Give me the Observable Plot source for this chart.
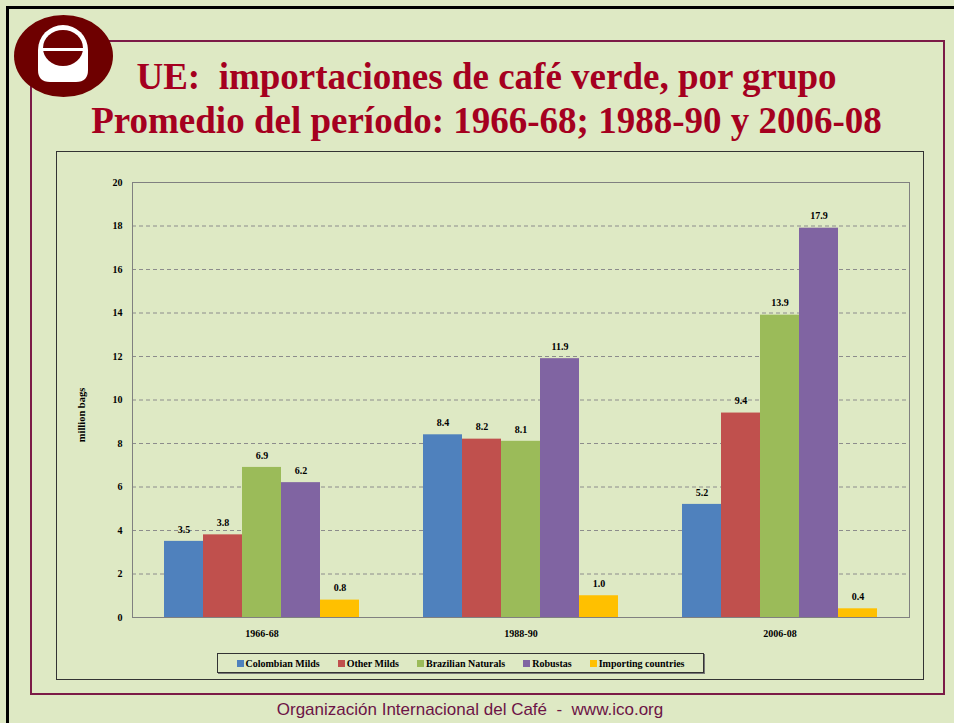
<!DOCTYPE html>
<html>
<head>
<meta charset="utf-8">
<script src="https://cdn.jsdelivr.net/npm/d3@7"></script>
<script src="https://cdn.jsdelivr.net/npm/@observablehq/plot@0.6"></script>
<style>
  html, body { margin: 0; padding: 0; }
  body { width: 954px; height: 723px; background: #DEE9C4; position: relative; overflow: hidden; }
  .abs { position: absolute; }
  #outer { left: 6px; top: 6px; width: 1000px; height: 1000px; border: 3px solid #000; }
  #frame { left: 30px; top: 40px; width: 911px; height: 651px; border: 2px solid #7B1B47; }
  #chartbox { left: 56px; top: 151px; width: 866px; height: 527px; border: 1px solid #333; }
  #title { left: 30px; top: 55px; width: 913px; text-align: center; color: #A5001F;
           font: bold 37px "Times New Roman", "Liberation Serif", serif; line-height: 44px; white-space: pre; }
  #chart { left: 56px; top: 151px; }
  #legend { left: 217px; top: 653px; width: 485px; height: 18px; border: 1px solid #333;
            box-shadow: 1px 1px 0 #777;
            display: flex; align-items: center; justify-content: center; gap: 18px;
            font: bold 10px "Times New Roman", "Liberation Serif", serif; color: #000; }
  #legend .item { display: flex; align-items: center; gap: 2px; white-space: nowrap; }
  #legend .sw { width: 7px; height: 7px; display: inline-block; }
  #footer { left: 0px; top: 700px; width: 940px; text-align: center; color: #6C1446;
            font: 17px Arial, "Liberation Sans", sans-serif; white-space: pre; }
</style>
</head>
<body>
<div id="outer" class="abs"></div>
<div id="frame" class="abs"></div>
<div id="chartbox" class="abs"></div>
<svg class="abs" style="left:0;top:0" width="130" height="110">
  <ellipse cx="63.5" cy="56" rx="49.5" ry="41" fill="#6E0000"/>
  <path d="M38,50 A25,25 0 0 1 88,50 L88,70 Q88,82 76,82 L50,82 Q38,82 38,70 Z" fill="#fff"/>
  <ellipse cx="63" cy="48" rx="20" ry="18" fill="#6E0000"/>
  <rect x="40" y="48" width="46" height="3" fill="#fff"/>
</svg>
<div id="title" class="abs">UE:  importaciones de café verde, por grupo
Promedio del período: 1966-68; 1988-90 y 2006-08</div>
<div id="chart" class="abs"></div>
<div id="legend" class="abs"></div>
<div id="footer" class="abs">Organización Internacional del Café  -  www.ico.org</div>
<script>
const groups = ["1966-68", "1988-90", "2006-08"];
const series = ["Colombian Milds", "Other Milds", "Brazilian Naturals", "Robustas", "Importing countries"];
const seriesColors = ["#4F81BD", "#C0504D", "#9BBB59", "#8064A2", "#FFC000"];
const colombianMilds = [3.5, 8.4, 5.2];
const otherMilds = [3.8, 8.2, 9.4];
const brazilianNaturals = [6.9, 8.1, 13.9];
const robustas = [6.2, 11.9, 17.9];
const importingCountries = [0.8, 1.0, 0.4];
const yTicks = [0, 2, 4, 6, 8, 10, 12, 14, 16, 18, 20];
const yLabel = "million bags";

const seriesValues = [colombianMilds, otherMilds, brazilianNaturals, robustas, importingCountries];
const rows = groups.flatMap((g, i) => series.map((s, j) => ({group: g, series: s, value: seriesValues[j][i]})));

const serif = '"Times New Roman", "Liberation Serif", serif';

const chart = Plot.plot({
  width: 866,
  height: 494,
  marginLeft: 75,
  marginRight: 12,
  marginTop: 31,
  marginBottom: 28,
  style: {background: "transparent", fontFamily: serif, fontWeight: "bold", fontSize: "10px", color: "#000", overflow: "visible"},
  fx: {domain: groups, padding: 0, axis: "bottom", tickSize: 0, tickPadding: 12, label: null},
  x: {domain: series, axis: null, paddingInner: 0, paddingOuter: 0.75},
  y: {domain: [0, 20], ticks: yTicks, tickSize: 0, tickPadding: 10, label: null},
  color: {domain: series, range: seriesColors},
  marks: [
    Plot.gridY(yTicks.slice(1, -1), {stroke: "#8c8c8c", strokeOpacity: 1, strokeDasharray: "4,3"}),
    Plot.barY(rows, {fx: "group", x: "series", y: "value", fill: "series"}),
    Plot.text(rows, {fx: "group", x: "series", y: "value", text: d => d.value.toFixed(1), dy: -12, fill: "#000"}),
    Plot.ruleY([0, 20], {stroke: "#808080"}),
    Plot.frame({stroke: "#808080", facet: "super"}),
    Plot.text([yLabel], {text: d => d, frameAnchor: "left", textAnchor: "middle", lineAnchor: "middle", rotate: -90, dx: -51, dy: 15, fontSize: 10.5, fill: "#000", facet: "super"})
  ]
});
document.getElementById("chart").appendChild(chart);

const legend = d3.select("#legend");
series.forEach((s, i) => {
  const item = legend.append("div").attr("class", "item");
  item.append("span").attr("class", "sw").style("background", seriesColors[i]);
  item.append("span").text(s);
});
</script>
</body>
</html>
